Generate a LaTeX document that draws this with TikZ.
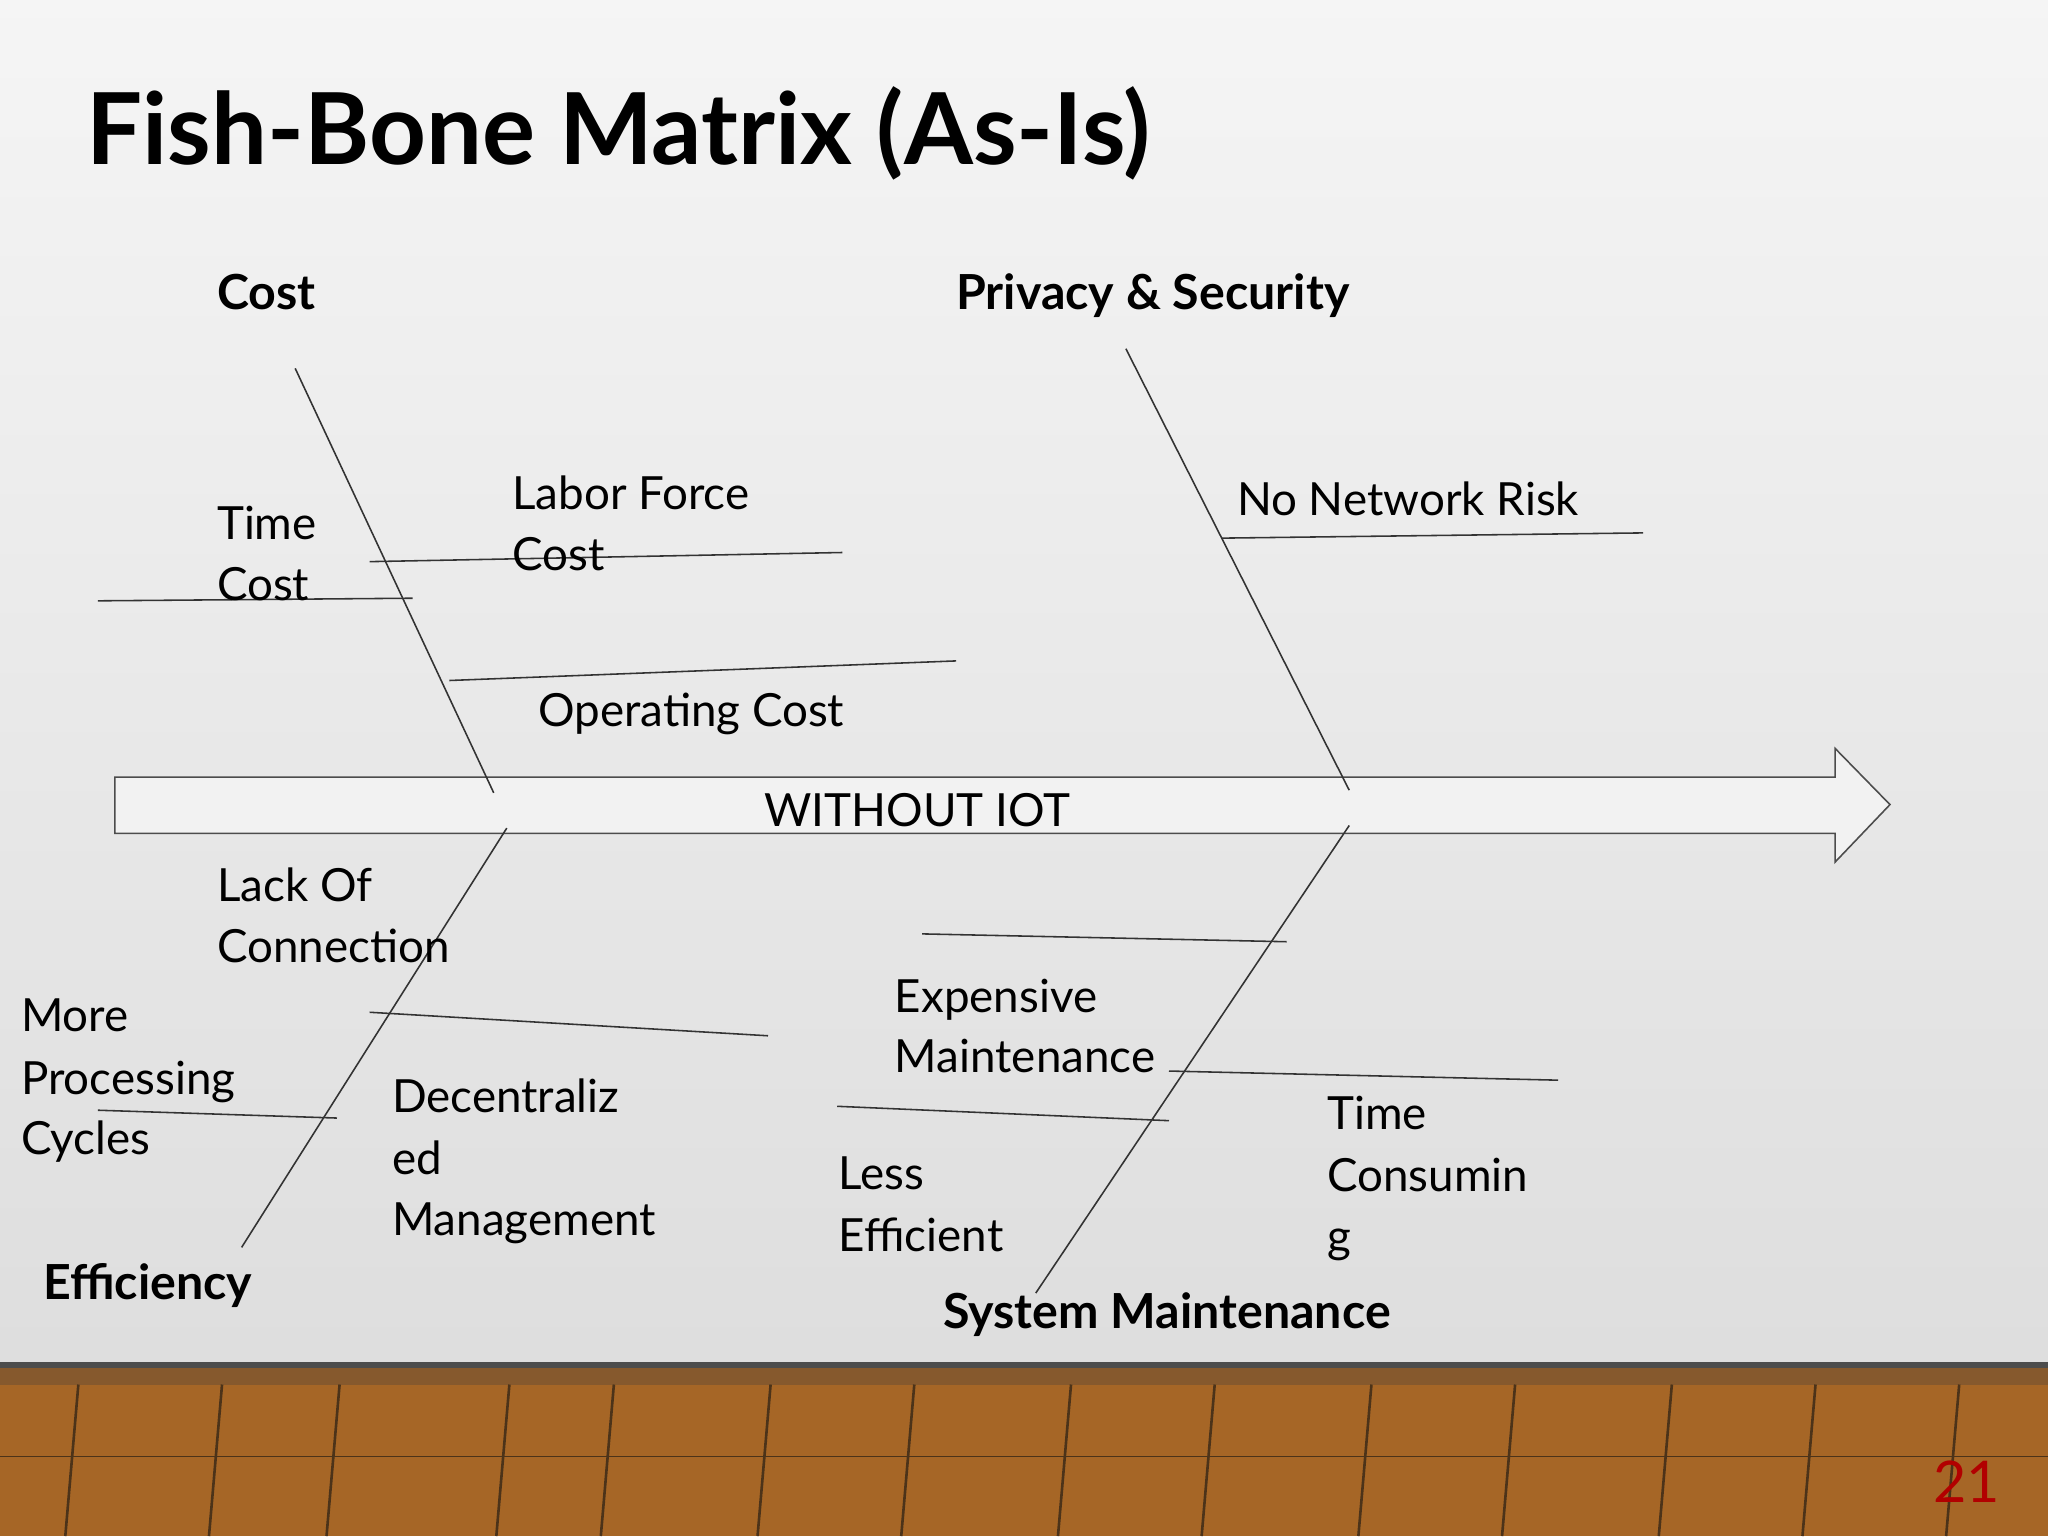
\documentclass[tikz,border=0pt]{standalone}
\usepackage{fontspec}
\setmainfont{Lato}
\begin{document}
\begin{tikzpicture}[x=1pt,y=-1pt,
  t/.style={anchor=base west,inner sep=0pt,font=\fontsize{35}{40}\selectfont},
  b/.style={anchor=base west,inner sep=0pt,font=\fontsize{37}{40}\selectfont\bfseries},
  ln/.style={draw=black!80,line width=1.2pt}]
\useasboundingbox (0,0) rectangle (1568,1176);
\shade[top color=white!92!gray,bottom color=black!13] (0,0) rectangle (1568,1045);
\fill[brown!70!black] (0,1045) rectangle (1568,1176);
\fill[brown!75!orange!80!black] (0,1060) rectangle (1568,1176);
\foreach \x in {60,170,260,390,470,590,700,820,930,1050,1160,1280,1390,1500}
  \draw[brown!40!black,line width=2pt] (\x,1060) -- (\x-10,1176);
\draw[brown!40!black,line width=1pt] (0,1115) -- (1568,1115);
\draw[black!70,line width=5pt] (0,1045) -- (1568,1045);
\node[anchor=base west,inner sep=0pt,font=\fontsize{76}{80}\selectfont\bfseries] (title) at (66,126) {Fish-Bone Matrix (As-Is)};
% arrow
\draw[black!70,fill=black!5,line width=1.2pt] (88,595) -- (1405,595) -- (1405,573) -- (1447,616) -- (1405,660) -- (1405,638) -- (88,638) -- cycle;
\node[t] (w) at (585,633) {WITHOUT IOT};
% spines
\coordinate (c1) at (226,282); \coordinate (c2) at (378,607);
\coordinate (p1) at (862,267); \coordinate (p2) at (1033,605);
\coordinate (e1) at (388,634); \coordinate (e2) at (185,955);
\coordinate (s1) at (1033,632); \coordinate (s2) at (793,990);
\draw[ln] (c1)--(c2); \draw[ln] (p1)--(p2); \draw[ln] (e1)--(e2); \draw[ln] (s1)--(s2);
\coordinate (a1) at (283,430); \coordinate (a2) at (645,423); \draw[ln] (a1)--(a2);
\coordinate (b1) at (75,460); \coordinate (b2) at (316,458); \draw[ln] (b1)--(b2);
\coordinate (o1) at (344,521); \coordinate (o2) at (732,506); \draw[ln] (o1)--(o2);
\coordinate (n1) at (935,412); \coordinate (n2) at (1258,408); \draw[ln] (n1)--(n2);
\coordinate (l1) at (283,775); \coordinate (l2) at (588,793); \draw[ln] (l1)--(l2);
\coordinate (m1) at (75,850); \coordinate (m2) at (258,856); \draw[ln] (m1)--(m2);
\coordinate (x1) at (706,715); \coordinate (x2) at (985,721); \draw[ln] (x1)--(x2);
\coordinate (y1) at (895,820); \coordinate (y2) at (1193,827); \draw[ln] (y1)--(y2);
\coordinate (z1) at (641,847); \coordinate (z2) at (895,858); \draw[ln] (z1)--(z2);
% labels
\node[b] (cost) at (166,237) {Cost};
\node[b] (priv) at (732,237) {Privacy \& Security};
\node[b] (eff) at (33,995) {Efficiency};
\node[b] (sys) at (722,1017) {System Maintenance};
\node[t] (t1) at (166,413) {Time}; \node[t] (t2) at (166,460) {Cost};
\node[t] (lf1) at (392,390) {Labor Force}; \node[t] (lf2) at (392,437) {Cost};
\node[t] (nn) at (947,395) {No Network Risk};
\node[t] (op) at (412,556) {Operating Cost};
\node[t] (lo1) at (166,690) {Lack Of}; \node[t] (lo2) at (166,737) {Connection};
\node[t] (mp1) at (16,790) {More}; \node[t] (mp2) at (16,838) {Processing}; \node[t] (mp3) at (16,884) {Cycles};
\node[t] (d1) at (300,852) {Decentraliz}; \node[t] (d2) at (300,899) {ed}; \node[t] (d3) at (300,946) {Management};
\node[t] (em1) at (685,775) {Expensive}; \node[t] (em2) at (685,821) {Maintenance};
\node[t] (le1) at (642,911) {Less}; \node[t] (le2) at (642,958) {Efficient};
\node[t] (tc1) at (1016,865) {Time}; \node[t] (tc2) at (1016,912) {Consumin}; \node[t] (tc3) at (1016,959) {g};
\node[anchor=base west,inner sep=0pt,text=red!70!black,font=\fontsize{44}{48}\selectfont] (pg) at (1480,1150) {21};
\end{tikzpicture}
\end{document}
